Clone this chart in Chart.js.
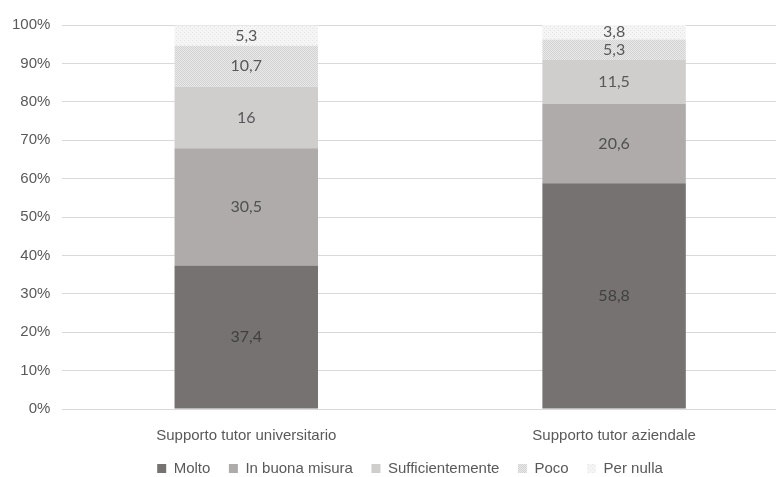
<!DOCTYPE html>
<html>
<head>
<meta charset="utf-8">
<script src="https://cdn.jsdelivr.net/npm/chart.js@4/dist/chart.umd.min.js"></script>
<style>
  html, body { margin: 0; padding: 0; background: #fff; overflow: hidden; }
  #wrap { width: 776px; height: 477px; overflow: hidden; }
</style>
</head>
<body>
<div id="wrap"><canvas id="chart" width="798" height="488"></canvas></div>
<script>
// data
const categories = ["Supporto tutor universitario", "Supporto tutor aziendale"];
const molto = [37.4, 58.8];
const inBuonaMisura = [30.5, 20.6];
const sufficientemente = [16, 11.5];
const poco = [10.7, 5.3];
const perNulla = [5.3, 3.8];
const seriesNames = ["Molto", "In buona misura", "Sufficientemente", "Poco", "Per nulla"];

// small dotted fill, like the office pattern fills
function makePattern(base, dot, step) {
  const c = document.createElement("canvas");
  c.width = step; c.height = step;
  const g = c.getContext("2d");
  g.fillStyle = base;
  g.fillRect(0, 0, step, step);
  g.fillStyle = dot;
  g.fillRect(0, 0, 1, 1);
  g.fillRect(step / 2, step / 2, 1, 1);
  return g.createPattern(c, "repeat");
}

const ctx = document.getElementById("chart").getContext("2d");
const colors = [
  "#767271",
  "#aeabaa",
  "#d0cdcd",
  makePattern("#e9e9e9", "#d2d2d2", 2),
  makePattern("#f5f5f5", "#e4e4e4", 4)
];
const labelColors = ["#404040", "#505050", "#595959", "#595959", "#595959"];

// write each value in the middle of its segment, decimal comma
const valueLabels = {
  id: "valueLabels",
  afterDatasetsDraw(chart) {
    const c = chart.ctx;
    c.save();
    c.font = "16px Lato, 'Open Sans', sans-serif";
    c.textAlign = "center";
    c.textBaseline = "middle";
    chart.data.datasets.forEach((ds, i) => {
      c.fillStyle = labelColors[i];
      chart.getDatasetMeta(i).data.forEach((bar, j) => {
        const y = (bar.y + bar.base) / 2;
        c.fillText(String(ds.data[j]).replace(".", ","), bar.x, y);
      });
    });
    c.restore();
  }
};

// the original legend sits a little right of the canvas centre
const nudgeLegend = {
  id: "nudgeLegend",
  afterLayout(chart) {
    if (chart.legend) {
      chart.legend.left += 11;
      chart.legend.right += 11;
    }
  }
};

const allSeries = [molto, inBuonaMisura, sufficientemente, poco, perNulla];
const axisFont = { family: "'Liberation Sans', Arial, sans-serif", size: 15 };

new Chart(ctx, {
  type: "bar",
  data: {
    labels: categories,
    datasets: allSeries.map((vals, i) => ({
      label: seriesNames[i],
      data: vals,
      backgroundColor: colors[i],
      borderWidth: 0,
      categoryPercentage: 0.78,
      barPercentage: 0.5
    }))
  },
  options: {
    responsive: false,
    animation: false,
    layout: { padding: { top: 25, left: 0, right: 0, bottom: 2 } },
    scales: {
      x: {
        stacked: true,
        grid: { display: false },
        border: { display: false },
        ticks: { color: "#595959", font: axisFont, padding: 10 }
      },
      y: {
        stacked: true,
        min: 0,
        max: 100,
        ticks: {
          stepSize: 10,
          color: "#595959",
          padding: 12,
          font: axisFont,
          callback: (v) => v + "%"
        },
        grid: { color: "#d9d9d9", drawTicks: false },
        border: { display: false }
      }
    },
    plugins: {
      legend: {
        position: "bottom",
        labels: {
          boxWidth: 9,
          boxHeight: 9,
          padding: 6,
          color: "#595959",
          font: axisFont,
          // trailing spaces widen the gap between items without a tall legend
          generateLabels(chart) {
            const items = Chart.defaults.plugins.legend.labels.generateLabels(chart);
            items.forEach((it, i) => { if (i < items.length - 1) it.text += "\u00a0\u00a0\u00a0"; });
            return items;
          }
        }
      },
      tooltip: { enabled: false }
    }
  },
  plugins: [valueLabels, nudgeLegend]
});
</script>
</body>
</html>
